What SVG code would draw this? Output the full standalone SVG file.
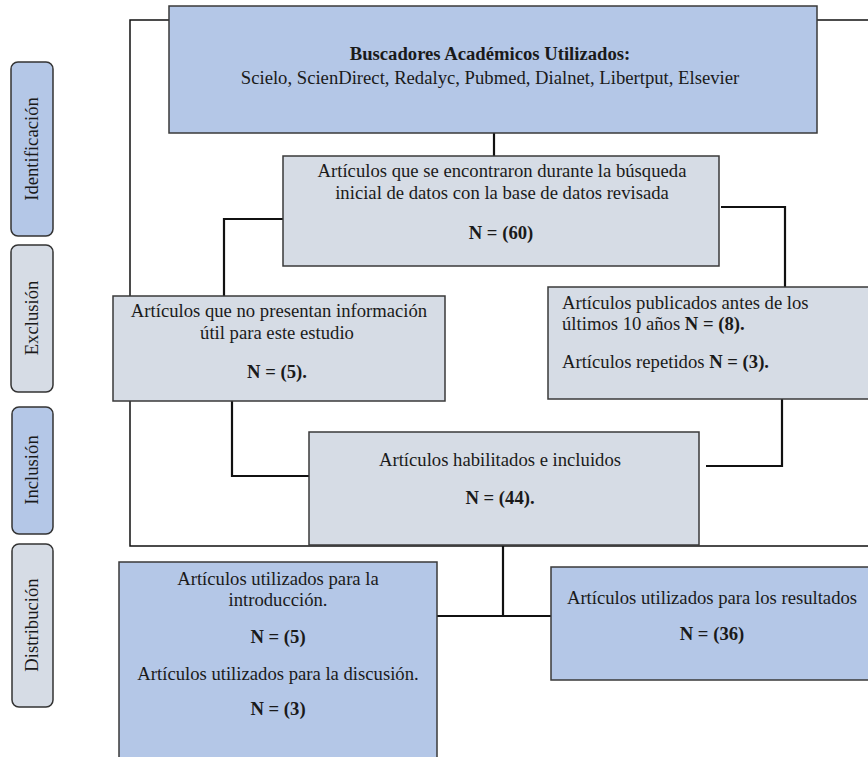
<svg xmlns="http://www.w3.org/2000/svg" width="868" height="757" viewBox="0 0 868 757">
<style>
  text { font-family: "Liberation Serif", "Times New Roman", serif; font-size: 18.67px; fill: #1a1a1a; }
  .b { font-weight: bold; }
  .c { text-anchor: middle; }
  .blue { fill: #b4c7e7; stroke: #3a3a3a; stroke-width: 1.5; }
  .gray { fill: #d6dce5; stroke: #3a3a3a; stroke-width: 1.5; }
  .lbl { stroke: #333333; stroke-width: 1.5; }
  .frame { fill: none; stroke: #111111; stroke-width: 1.5; }
  .conn { fill: none; stroke: #111111; stroke-width: 2.2; }
</style>
<rect width="868" height="757" fill="#ffffff"/>

<g id="stage-labels">
  <g id="label-identificacion">
    <rect class="blue lbl" x="11" y="62" width="42" height="174" rx="7"/>
    <text class="c" transform="translate(38 149) rotate(-90)">Identificación</text>
  </g>
  <g id="label-exclusion">
    <rect class="gray lbl" x="11" y="245" width="42" height="147" rx="7"/>
    <text class="c" transform="translate(38 318) rotate(-90)">Exclusión</text>
  </g>
  <g id="label-inclusion">
    <rect class="blue lbl" x="12" y="407" width="41" height="127" rx="7"/>
    <text class="c" transform="translate(38 470) rotate(-90)">Inclusión</text>
  </g>
  <g id="label-distribucion">
    <rect class="gray lbl" x="12" y="544" width="41" height="163" rx="7"/>
    <text class="c" transform="translate(38 625) rotate(-90)">Distribución</text>
  </g>
</g>

<g id="connectors">
  <path class="frame" d="M169 20 H130 V546 H870"/>
  <path class="frame" d="M817 20 H870"/>
  <path class="conn" d="M494 133 V156"/>
  <path class="conn" d="M283 219 H224 V296"/>
  <path class="conn" d="M721 207 H785 V287"/>
  <path class="conn" d="M782 399 V466 H706"/>
  <path class="conn" d="M232 401 V476 H309"/>
  <path class="conn" d="M503 546 V616"/>
  <path class="conn" d="M437 616 H551"/>
</g>

<g id="node-buscadores">
  <rect class="blue" x="169" y="6" width="648" height="127"/>
  <text class="c b" x="490" y="60">Buscadores Académicos Utilizados:</text>
  <text class="c" x="490" y="84">Scielo, ScienDirect, Redalyc, Pubmed, Dialnet, Libertput, Elsevier</text>
</g>

<g id="node-encontrados">
  <rect class="gray" x="283" y="156" width="436" height="110"/>
  <text class="c" x="502" y="177">Artículos que se encontraron durante la búsqueda</text>
  <text class="c" x="502" y="199">inicial de datos con la base de datos revisada</text>
  <text class="c b" x="501" y="239">N = (60)</text>
</g>

<g id="node-no-util">
  <rect class="gray" x="113" y="296" width="332" height="105"/>
  <text class="c" x="279" y="317">Artículos que no presentan información</text>
  <text class="c" x="277" y="339">útil para este estudio</text>
  <text class="c b" x="277" y="378">N = (5).</text>
</g>

<g id="node-antiguos-repetidos">
  <rect class="gray" x="548" y="287" width="330" height="112"/>
  <text x="562" y="309">Artículos publicados antes de los</text>
  <text x="562" y="330">últimos 10 años <tspan class="b">N = (8).</tspan></text>
  <text x="562" y="368">Artículos repetidos <tspan class="b">N = (3).</tspan></text>
</g>

<g id="node-incluidos">
  <rect class="gray" x="309" y="432" width="390" height="113"/>
  <text class="c" x="500" y="466">Artículos habilitados e incluidos</text>
  <text class="c b" x="500" y="504">N = (44).</text>
</g>

<g id="node-intro-discusion">
  <rect class="blue" x="119" y="562" width="318" height="210"/>
  <text class="c" x="278" y="585">Artículos utilizados para la</text>
  <text class="c" x="278" y="606">introducción.</text>
  <text class="c b" x="278" y="643">N = (5)</text>
  <text class="c" x="278" y="680">Artículos utilizados para la discusión.</text>
  <text class="c b" x="278" y="715">N = (3)</text>
</g>

<g id="node-resultados">
  <rect class="blue" x="551" y="567" width="330" height="113"/>
  <text class="c" x="712" y="604">Artículos utilizados para los resultados</text>
  <text class="c b" x="712" y="640">N = (36)</text>
</g>
</svg>
